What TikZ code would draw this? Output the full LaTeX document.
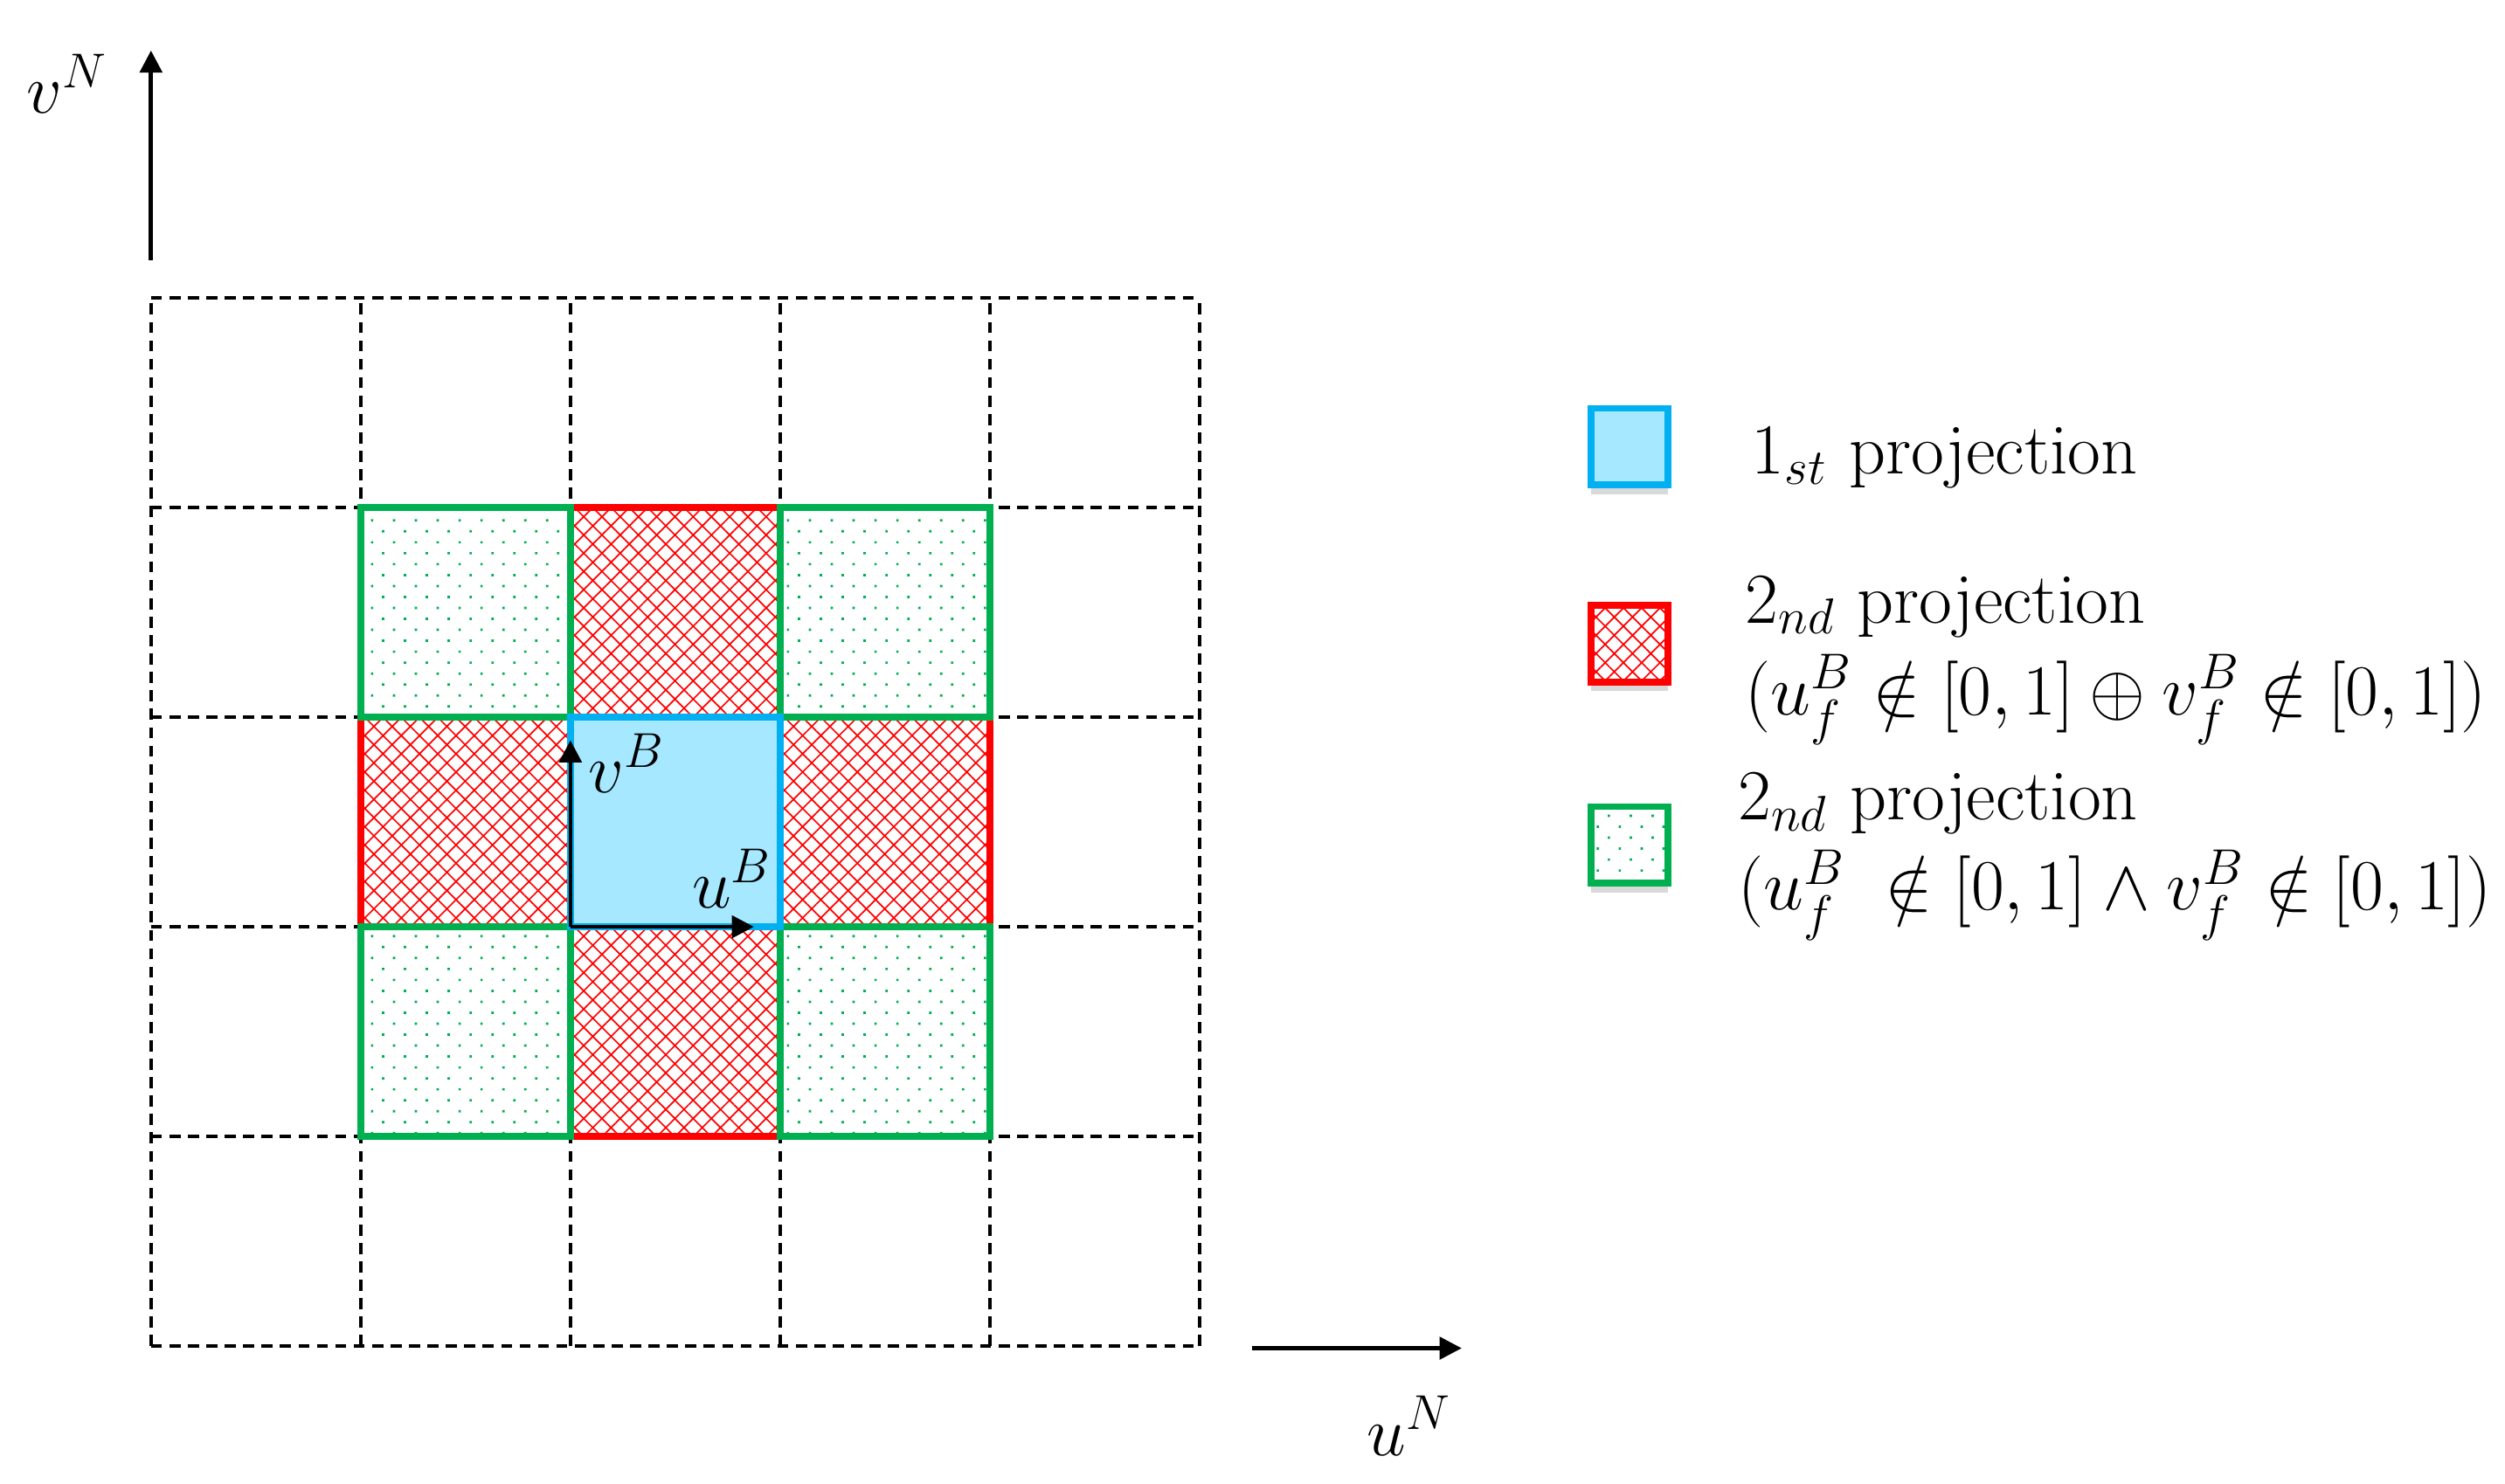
\documentclass[tikz,border=0pt]{standalone}
\usepackage{fix-cm}
\usepackage{fontspec}
\usepackage{amsmath,amssymb}
\usetikzlibrary{arrows.meta,patterns.meta,shadows}
\definecolor{boxblue}{HTML}{00B0F0}
\definecolor{fillblue}{HTML}{A5E8FF}
\definecolor{boxgreen}{HTML}{00B050}
\tikzset{
    gridline/.style={draw, dash pattern=on 3pt off 2pt, line width=0.95pt},
    first/.style={draw=boxblue, fill=fillblue, line width=1.8pt},
    second/.style={draw=red, line width=1.8pt,
        pattern={Hatch[angle=45,distance=3.5pt,line width=0.4pt]}, pattern color=red},
    both/.style={draw=boxgreen, line width=1.8pt,
        pattern={Dots[angle=45,distance=4.2pt,radius=0.45pt]}, pattern color=boxgreen},
    vec/.style={-{Triangle[length=6pt,width=6pt]}, line width=1.1pt},
    legend/.style={minimum size=0.73cm, inner sep=0pt,
        drop shadow={shadow xshift=0pt, shadow yshift=-2.5pt, opacity=0.3},
        preaction={fill=white}},
    keytext/.style={anchor=base west, inner sep=0pt,
        font=\fontsize{19.5}{23}\selectfont},
}

\begin{document}
\begin{tikzpicture}
    [x=2cm, y=2cm,
     every node/.style={font=\fontsize{19}{22}\selectfont}]
    \useasboundingbox (-0.72,-0.654) rectangle (11.225,6.421);

    % dashed grid
    \foreach \i in {0,...,5} {
        \draw[gridline] (\i,0) -- (\i,5);
        \draw[gridline] (0,\i) -- (5,\i);
    }

    % projected cells
    \foreach \x/\y in {2/3,1/2,3/2,2/1}
        \draw[second] (\x,\y) rectangle ++(1,1);
    \foreach \x/\y in {1/3,3/3,1/1,3/1}
        \draw[both] (\x,\y) rectangle ++(1,1);
    \draw[first] (2,2) rectangle (3,3);

    % body frame
    \coordinate (o) at (2,2);
    \coordinate (uB) at (2.875,2);
    \coordinate (vB) at (2,2.89);
    \draw[vec] (o) -- (uB);
    \draw[vec] (o) -- (vB);
    \node (vBlab) at (2.27,2.78) {$v^B$};
    \node (uBlab) at (2.77,2.23) {$u^B$};

    % navigation frame
    \coordinate (vN0) at (0,5.18);
    \coordinate (vN1) at (0,6.18);
    \coordinate (uN0) at (5.25,-0.01);
    \coordinate (uN1) at (6.25,-0.01);
    \draw[vec] (vN0) -- (vN1);
    \draw[vec] (uN0) -- (uN1);
    \node (vNlab) at (-0.40,6.02) {$v^N$};
    \node (uNlab) at (6.0,-0.38) {$u^N$};

    % legend
    \node[legend, first] (key1) at (7.05,4.29) {};
    \node[legend, second] (key2) at (7.05,3.35) {};
    \node[legend, both] (key3) at (7.05,2.39) {};
    \node[keytext] (txt1) at (7.63,4.16) {$1_{st}$ projection};
    \node[keytext] (txt2a) at (7.60,3.45) {$2_{nd}$ projection};
    \node[keytext] (txt2b) at (7.60,3.01)
        {$(u_f^B \notin [0,1] \oplus v_f^B \notin [0,1])$};
    \node[keytext] (txt3a) at (7.565,2.51) {$2_{nd}$ projection};
    \node[keytext] (txt3b) at (7.565,2.08)
        {$(u_f^B\;\notin [0,1] \wedge v_f^B \notin [0,1])$};
\end{tikzpicture}
\end{document}
